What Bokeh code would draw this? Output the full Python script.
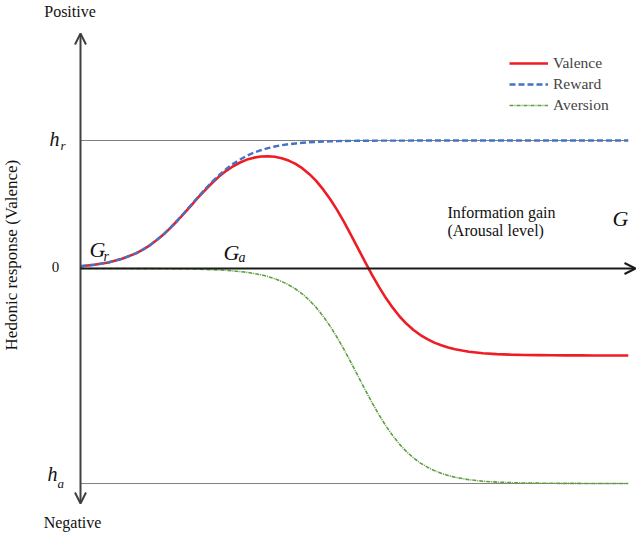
from math import pi
from bokeh.plotting import figure
from bokeh.models import Arrow, OpenHead, Label, Legend, LegendItem, Range1d
from bokeh.embed import file_html
from bokeh.resources import INLINE

# ---- data ----
GAIN = [0.0, 0.25, 0.5, 0.75,
        1.0, 1.125, 1.25, 1.375, 1.5, 1.625, 1.75, 1.875,
        2.0, 2.125, 2.25, 2.375, 2.5, 2.625, 2.75, 2.875,
        3.0, 3.125, 3.25, 3.375, 3.5, 3.625, 3.75, 3.875,
        4.0, 4.125, 4.25, 4.375, 4.5, 4.625, 4.75, 4.875,
        5.0, 5.125, 5.25, 5.375, 5.5, 5.625, 5.75, 5.875,
        6.0, 6.125, 6.25, 6.375, 6.5, 6.625, 6.75, 6.875,
        7.0, 7.25, 7.5, 7.75, 8.0, 8.25, 8.5, 8.75, 9.0, 9.25, 9.5, 9.75, 9.87]
VALENCE = [0.018, 0.029, 0.047, 0.076,
           0.118, 0.147, 0.181, 0.222, 0.267, 0.319, 0.375, 0.435,
           0.496, 0.557, 0.615, 0.670, 0.720, 0.763, 0.799, 0.828,
           0.851, 0.866, 0.875, 0.877, 0.873, 0.862, 0.843, 0.817,
           0.782, 0.737, 0.683, 0.616, 0.541, 0.456, 0.362, 0.261,
           0.158, 0.054, -0.048, -0.142, -0.229, -0.306, -0.375, -0.432,
           -0.480, -0.520, -0.552, -0.579, -0.600, -0.617, -0.631, -0.641,
           -0.650, -0.662, -0.669, -0.673, -0.676, -0.677, -0.678, -0.679, -0.679,
           -0.680, -0.680, -0.680, -0.680]
REWARD = [0.018, 0.029, 0.047, 0.076,
          0.119, 0.148, 0.182, 0.223, 0.269, 0.321, 0.378, 0.438,
          0.500, 0.562, 0.622, 0.679, 0.731, 0.777, 0.818, 0.852,
          0.881, 0.905, 0.924, 0.940, 0.953, 0.963, 0.971, 0.977,
          0.982, 0.986, 0.989, 0.991, 0.993, 0.995, 0.996, 0.997,
          0.998, 0.998, 0.998, 0.999, 0.999, 0.999, 0.999, 0.999,
          1.0, 1.0, 1.0, 1.0, 1.0, 1.0, 1.0, 1.0,
          1.0, 1.0, 1.0, 1.0, 1.0, 1.0, 1.0, 1.0, 1.0, 1.0, 1.0, 1.0, 1.0]
AVERSION = [0.0, 0.0, 0.0, 0.0,
            -0.001, -0.001, -0.001, -0.001, -0.002, -0.002, -0.003, -0.003,
            -0.004, -0.005, -0.007, -0.009, -0.011, -0.014, -0.019, -0.024,
            -0.030, -0.039, -0.049, -0.063, -0.080, -0.101, -0.128, -0.160,
            -0.200, -0.249, -0.306, -0.375, -0.452, -0.539, -0.634, -0.736,
            -0.840, -0.944, -1.046, -1.141, -1.228, -1.305, -1.374, -1.431,
            -1.480, -1.520, -1.552, -1.579, -1.600, -1.617, -1.631, -1.641,
            -1.650, -1.662, -1.669, -1.673, -1.676, -1.677, -1.678, -1.679, -1.679,
            -1.680, -1.680, -1.680, -1.680]
H_R = 1.0
H_A = -1.68
SERIES = ["Valence", "Reward", "Aversion"]

SERIF = "Liberation Serif"

p = figure(width=638, height=535, output_backend="svg", toolbar_location=None,
           x_range=Range1d(-1.4414, 10.054), y_range=Range1d(-2.0859, 2.09375),
           x_axis_type=None, y_axis_type=None, min_border=0)
p.outline_line_color = None
p.grid.visible = False
p.background_fill_color = "white"
p.border_fill_color = "white"

# reference (dotted) levels
p.segment(x0=[0, 0], y0=[H_R, H_A], x1=[GAIN[-1], GAIN[-1]], y1=[H_R, H_A],
          line_color="black", line_width=1, line_dash="1 1")

# axes as arrows
p.add_layout(Arrow(start=OpenHead(size=11, line_width=2, line_color="#404040"),
                   end=OpenHead(size=11, line_width=2, line_color="#404040"),
                   x_start=0, y_start=-1.836, x_end=0, y_end=1.836,
                   line_width=2, line_color="#404040"))
p.add_layout(Arrow(end=OpenHead(size=11, line_width=2, line_color="#1a1a1a"),
                   x_start=0, y_start=0, x_end=10.0, y_end=0,
                   line_width=2, line_color="#1a1a1a"))

rv = p.line(GAIN, VALENCE, line_color="#ee1c24", line_width=2.6)
rr = p.line(GAIN, REWARD, line_color="#4472c4", line_width=2.4, line_dash="6 3")
ra = p.line(GAIN, AVERSION, line_color="#5f9e3f", line_width=1.6, line_dash="4 1 1 1")

legend = Legend(items=[LegendItem(label=SERIES[0], renderers=[rv]),
                       LegendItem(label=SERIES[1], renderers=[rr]),
                       LegendItem(label=SERIES[2], renderers=[ra])],
                location=(509, 420), glyph_width=39, glyph_height=20,
                label_height=20, spacing=1, padding=0, margin=0,
                label_standoff=5, border_line_color=None,
                background_fill_alpha=0, label_text_font=SERIF,
                label_text_font_size="15.5px")
p.add_layout(legend)


def lab(text, x, y, size, italic=False, align="left", angle=0.0):
    p.add_layout(Label(x=x, y=y, text=text, text_font=SERIF,
                       text_font_size=size,
                       text_font_style="italic" if italic else "normal",
                       text_align=align, text_baseline="middle",
                       angle=angle, text_color="#111111"))


lab("Positive", -0.189, 2.008, "16px", align="center")
lab("Negative", -0.144, -1.984, "16px", align="center")
lab("0", -0.450, 0.008, "15px", align="center")
lab("h", -0.559, 1.013, "20px", italic=True)
lab("r", -0.360, 0.964, "13px", italic=True)
lab("h", -0.595, -1.604, "20px", italic=True)
lab("a", -0.414, -1.677, "13px", italic=True)
lab("G", 0.162, 0.145, "22px", italic=True)
lab("r", 0.414, 0.095, "14px", italic=True)
lab("G", 2.577, 0.128, "22px", italic=True)
lab("a", 2.847, 0.084, "14px", italic=True)
lab("G", 9.586, 0.394, "22px", italic=True)
lab("Information gain", 6.613, 0.438, "16px")
lab("(Arousal level)", 6.613, 0.297, "16px")
lab("Hedonic response (Valence)", -1.243, 0.105, "17px", align="center",
    angle=pi / 2)

open("out.html", "w").write(file_html(p, INLINE))
